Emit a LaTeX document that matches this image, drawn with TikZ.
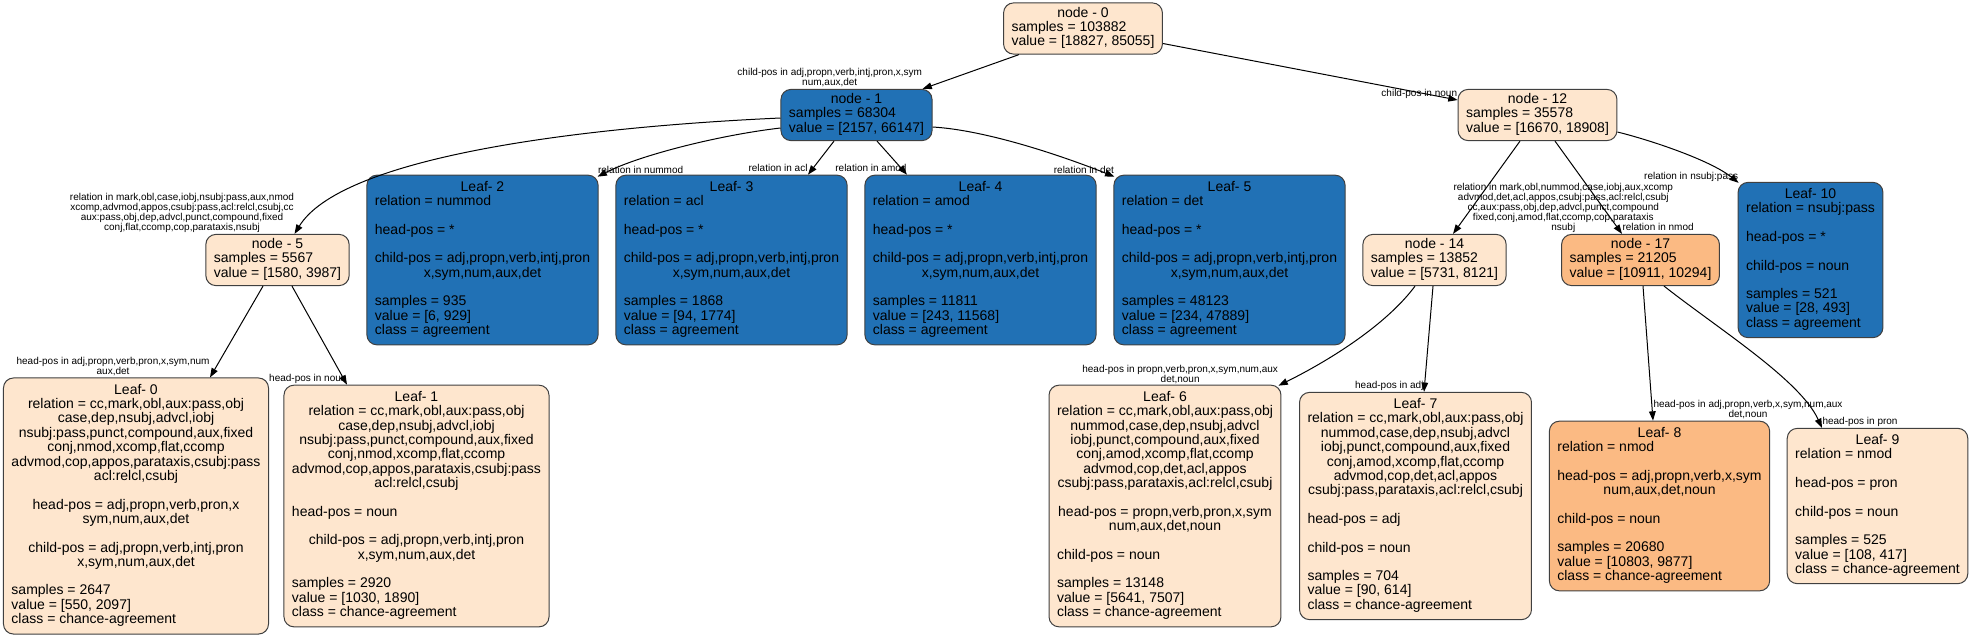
\documentclass[tikz,border=0pt]{standalone}
\usepackage{fontspec}
\setmainfont{Liberation Sans}
\usetikzlibrary{arrows.meta,calc}
\definecolor{leafblue}{HTML}{2171B5}
\definecolor{paleorange}{HTML}{FEE6CE}
\definecolor{deeporange}{HTML}{FBBA83}
\newcommand{\ctrline}[1]{\multicolumn{1}{@{}c@{}}{#1}}
\newcommand{\boxrows}[1]{\begin{tabular}{@{}l@{}}#1\end{tabular}}
\begin{document}
\begin{tikzpicture}[x=.75pt,y=-.75pt,>={Triangle[length=7pt,width=5pt]},line width=.75pt,
  boxbase/.style={draw=black!75,rounded corners=7.5pt,inner xsep=6pt,font=\fontsize{10.5pt}{10.63pt}\selectfont},
  splitnode/.style={boxbase,inner ysep=3pt},
  leafnode/.style={boxbase,inner ysep=4.5pt},
  edgelbl/.style={inner sep=0pt,align=center,text depth=2pt,font=\fontsize{7.5pt}{7.5pt}\selectfont},
  lblleft/.style={edgelbl,anchor=south east},
  lblright/.style={edgelbl,anchor=south west}]
  \useasboundingbox (0,0) rectangle (1972,636);
  \node[splitnode,fill=paleorange] (n0) at (1083,28.5) {\boxrows{\ctrline{node - 0}\\samples = 103882\\value = [18827, 85055]}};
  \node[splitnode,fill=leafblue] (n1) at (856.5,115) {\boxrows{\ctrline{node - 1}\\samples = 68304\\value = [2157, 66147]}};
  \node[splitnode,fill=paleorange] (n12) at (1537.5,115) {\boxrows{\ctrline{node - 12}\\samples = 35578\\value = [16670, 18908]}};
  \node[splitnode,fill=paleorange] (n5) at (277.5,260) {\boxrows{\ctrline{node - 5}\\samples = 5567\\value = [1580, 3987]}};
  \node[leafnode,fill=leafblue] (l2) at (482.5,260) {\boxrows{\ctrline{Leaf- 2}\\relation = nummod\\ \\head-pos = *\\ \\child-pos = adj,propn,verb,intj,pron\\\ctrline{x,sym,num,aux,det}\\ \\samples = 935\\value = [6, 929]\\class = agreement}};
  \node[leafnode,fill=leafblue] (l3) at (731.5,260) {\boxrows{\ctrline{Leaf- 3}\\relation = acl\\ \\head-pos = *\\ \\child-pos = adj,propn,verb,intj,pron\\\ctrline{x,sym,num,aux,det}\\ \\samples = 1868\\value = [94, 1774]\\class = agreement}};
  \node[leafnode,fill=leafblue] (l4) at (980.5,260) {\boxrows{\ctrline{Leaf- 4}\\relation = amod\\ \\head-pos = *\\ \\child-pos = adj,propn,verb,intj,pron\\\ctrline{x,sym,num,aux,det}\\ \\samples = 11811\\value = [243, 11568]\\class = agreement}};
  \node[leafnode,fill=leafblue] (l5) at (1229.5,260) {\boxrows{\ctrline{Leaf- 5}\\relation = det\\ \\head-pos = *\\ \\child-pos = adj,propn,verb,intj,pron\\\ctrline{x,sym,num,aux,det}\\ \\samples = 48123\\value = [234, 47889]\\class = agreement}};
  \node[splitnode,fill=paleorange] (n14) at (1434.5,260) {\boxrows{\ctrline{node - 14}\\samples = 13852\\value = [5731, 8121]}};
  \node[splitnode,fill=deeporange] (n17) at (1640.5,260) {\boxrows{\ctrline{node - 17}\\samples = 21205\\value = [10911, 10294]}};
  \node[leafnode,fill=leafblue] (l10) at (1810.5,260) {\boxrows{\ctrline{Leaf- 10}\\relation = nsubj:pass\\ \\head-pos = *\\ \\child-pos = noun\\ \\samples = 521\\value = [28, 493]\\class = agreement}};
  \node[leafnode,fill=paleorange] (l0) at (136,506) {\boxrows{\ctrline{Leaf- 0}\\\ctrline{relation = cc,mark,obl,aux:pass,obj}\\\ctrline{case,dep,nsubj,advcl,iobj}\\\ctrline{nsubj:pass,punct,compound,aux,fixed}\\\ctrline{conj,nmod,xcomp,flat,ccomp}\\\ctrline{advmod,cop,appos,parataxis,csubj:pass}\\\ctrline{acl:relcl,csubj}\\ \\\ctrline{head-pos = adj,propn,verb,pron,x}\\\ctrline{sym,num,aux,det}\\ \\\ctrline{child-pos = adj,propn,verb,intj,pron}\\\ctrline{x,sym,num,aux,det}\\ \\samples = 2647\\value = [550, 2097]\\class = chance-agreement}};
  \node[leafnode,fill=paleorange] (l1) at (416.5,506) {\boxrows{\ctrline{Leaf- 1}\\\ctrline{relation = cc,mark,obl,aux:pass,obj}\\\ctrline{case,dep,nsubj,advcl,iobj}\\\ctrline{nsubj:pass,punct,compound,aux,fixed}\\\ctrline{conj,nmod,xcomp,flat,ccomp}\\\ctrline{advmod,cop,appos,parataxis,csubj:pass}\\\ctrline{acl:relcl,csubj}\\ \\head-pos = noun\\ \\\ctrline{child-pos = adj,propn,verb,intj,pron}\\\ctrline{x,sym,num,aux,det}\\ \\samples = 2920\\value = [1030, 1890]\\class = chance-agreement}};
  \node[leafnode,fill=paleorange] (l6) at (1165,506) {\boxrows{\ctrline{Leaf- 6}\\\ctrline{relation = cc,mark,obl,aux:pass,obj}\\\ctrline{nummod,case,dep,nsubj,advcl}\\\ctrline{iobj,punct,compound,aux,fixed}\\\ctrline{conj,amod,xcomp,flat,ccomp}\\\ctrline{advmod,cop,det,acl,appos}\\\ctrline{csubj:pass,parataxis,acl:relcl,csubj}\\ \\\ctrline{head-pos = propn,verb,pron,x,sym}\\\ctrline{num,aux,det,noun}\\ \\child-pos = noun\\ \\samples = 13148\\value = [5641, 7507]\\class = chance-agreement}};
  \node[leafnode,fill=paleorange] (l7) at (1415.5,506) {\boxrows{\ctrline{Leaf- 7}\\\ctrline{relation = cc,mark,obl,aux:pass,obj}\\\ctrline{nummod,case,dep,nsubj,advcl}\\\ctrline{iobj,punct,compound,aux,fixed}\\\ctrline{conj,amod,xcomp,flat,ccomp}\\\ctrline{advmod,cop,det,acl,appos}\\\ctrline{csubj:pass,parataxis,acl:relcl,csubj}\\ \\head-pos = adj\\ \\child-pos = noun\\ \\samples = 704\\value = [90, 614]\\class = chance-agreement}};
  \node[leafnode,fill=deeporange] (l8) at (1659.5,506) {\boxrows{\ctrline{Leaf- 8}\\relation = nmod\\ \\head-pos = adj,propn,verb,x,sym\\\ctrline{num,aux,det,noun}\\ \\child-pos = noun\\ \\samples = 20680\\value = [10803, 9877]\\class = chance-agreement}};
  \node[leafnode,fill=paleorange] (l9) at (1877.5,506) {\boxrows{\ctrline{Leaf- 9}\\relation = nmod\\ \\head-pos = pron\\ \\child-pos = noun\\ \\samples = 525\\value = [108, 417]\\class = chance-agreement}};
  \draw[->] ($(n0.south)+(-64,0)$) -- ($(n1.north)+(66,0)$) node[lblleft] {child-pos in adj,propn,verb,intj,pron,x,sym\\num,aux,det};
  \draw[->] ($(n0.east)+(0,15)$) -- ($(n12.west)+(0,-15)$) node[lblleft] {child-pos in noun};
  \draw[->] ($(n1.west)+(0,3)$) .. controls (560,128) and (340,160) .. ($(n5.north)+(17,0)$) node[lblleft] {relation in mark,obl,case,iobj,nsubj:pass,aux,nmod\\xcomp,advmod,appos,csubj:pass,acl:relcl,csubj,cc\\aux:pass,obj,dep,advcl,punct,compound,fixed\\conj,flat,ccomp,cop,parataxis,nsubj};
  \draw[->] ($(n1.west)+(0,13)$) .. controls (720,135) and (640,155) .. ($(l2.north east)+(-1,2)$) node[lblright] {relation in nummod};
  \draw[->] ($(n1.south)+(-22.5,0)$) -- ($(l3.north)+(76.5,0)$) node[lblleft] {relation in acl};
  \draw[->] ($(n1.south)+(20.5,0)$) -- ($(l4.north)+(-73.5,0)$) node[lblleft] {relation in amod};
  \draw[->] ($(n1.east)+(0,12)$) .. controls (985,130) and (1060,155) .. ($(l5.north west)+(1,2)$) node[lblleft] {relation in det};
  \draw[->] ($(n12.south)+(-17.5,0)$) -- ($(n14.north)+(18.5,0)$) node[lblright] {relation in mark,obl,nummod,case,iobj,aux,xcomp\\advmod,det,acl,appos,csubj:pass,acl:relcl,csubj\\cc,aux:pass,obj,dep,advcl,punct,compound\\fixed,conj,amod,flat,ccomp,cop,parataxis\\nsubj};
  \draw[->] ($(n12.south)+(17.5,0)$) -- ($(n17.north)+(-18.5,0)$) node[lblright] {relation in nmod};
  \draw[->] ($(n12.east)+(0,17)$) .. controls (1650,140) and (1710,160) .. ($(l10.north west)+(1,1)$) node[lblleft] {relation in nsubj:pass};
  \draw[->] ($(n5.south)+(-14.5,0)$) -- ($(l0.north)+(74,0)$) node[lblleft] {head-pos in adj,propn,verb,pron,x,sym,num\\aux,det};
  \draw[->] ($(n5.south)+(14.5,0)$) -- ($(l1.north)+(-69.5,0)$) node[lblleft] {head-pos in noun};
  \draw[->] ($(n14.south)+(-19.5,0)$) .. controls (1390,320) and (1340,355) .. ($(l6.north east)+(-3,1)$) node[lblleft] {head-pos in propn,verb,pron,x,sym,num,aux\\det,noun};
  \draw[->] ($(n14.south)+(-1.5,0)$) -- ($(l7.north)+(8.5,0)$) node[lblleft] {head-pos in adj};
  \draw[->] ($(n17.south)+(2.5,0)$) -- ($(l8.north)+(-6.5,0)$) node[lblright] {head-pos in adj,propn,verb,x,sym,num,aux\\det,noun};
  \draw[->] ($(n17.south)+(23.5,0)$) .. controls (1720,330) and (1800,380) .. ($(l9.north)+(-55.5,0)$) node[lblright] {head-pos in pron};
\end{tikzpicture}
\end{document}
